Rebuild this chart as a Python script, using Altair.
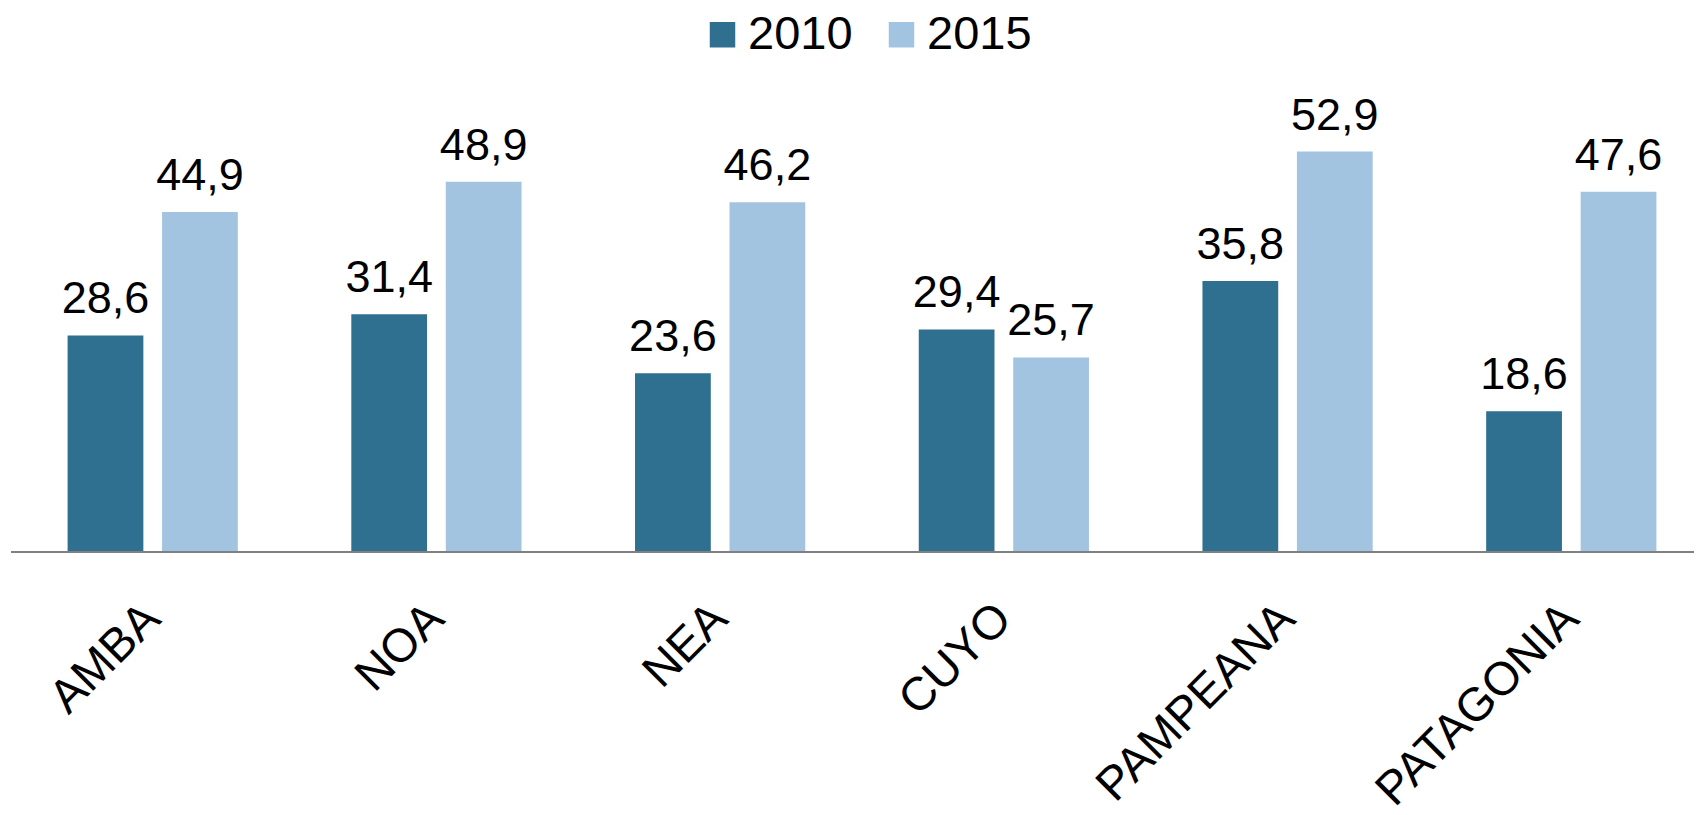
import altair as alt
import pandas as pd

regions = ["AMBA", "NOA", "NEA", "CUYO", "PAMPEANA", "PATAGONIA"]
years = ["2010", "2015"]
values_2010 = [28.6, 31.4, 23.6, 29.4, 35.8, 18.6]
values_2015 = [44.9, 48.9, 46.2, 25.7, 52.9, 47.6]
colors = ["#2F6F8F", "#A3C4E1"]

rows = []
for r, v1, v2 in zip(regions, values_2010, values_2015):
    for y, v in zip(years, [v1, v2]):
        rows.append({"region": r, "year": y, "value": v,
                     "label": f"{v:.1f}".replace(".", ",")})
df = pd.DataFrame(rows)

FONT = "Liberation Sans"
TOP = 8
W, H = 1664, 544 - TOP
YMAX = H / 7.57

x_enc = alt.X("region:N", sort=regions,
              scale=alt.Scale(paddingInner=0.4, paddingOuter=0.1325),
              axis=alt.Axis(title=None, labelAngle=-45, labelAlign="right",
                            labelBaseline="middle", labelFontSize=47,
                            labelFont=FONT, labelColor="black", ticks=False,
                            tickSize=0, domain=False, labelPadding=59,
                            labelLimit=500, labelOverlap=False, labelBound=False))
xo_enc = alt.XOffset("year:N", sort=years,
                     scale=alt.Scale(paddingInner=0.198, paddingOuter=0))
y_enc = alt.Y("value:Q", scale=alt.Scale(domain=[0, YMAX], nice=False, zero=True),
              axis=None)

bars = alt.Chart(df).mark_bar().encode(
    x=x_enc, xOffset=xo_enc, y=y_enc,
    color=alt.Color("year:N", sort=years,
                    scale=alt.Scale(domain=years, range=colors),
                    legend=alt.Legend(orient="none", legendX=669, legendY=-TOP + 3,
                                      direction="horizontal", title=None,
                                      symbolType="square", symbolSize=650,
                                      symbolStrokeWidth=0, labelFontSize=47,
                                      labelFont=FONT, labelColor="black",
                                      labelOffset=2, columnPadding=25,
                                      padding=0)),
)

texts = alt.Chart(df).mark_text(font=FONT, fontSize=45, color="black",
                                baseline="alphabetic", align="center", dy=-22).encode(
    x=x_enc, xOffset=xo_enc, y=y_enc, text="label:N"
)

base_line = alt.Chart(alt.Data(values=[{}])).mark_rule(color="#808080", strokeWidth=2).encode(
    x=alt.value(-19), x2=alt.value(W + 10), y=alt.value(H)
)

chart = alt.layer(bars, texts, base_line).properties(
    width=W, height=H,
    autosize=alt.AutoSizeParams(type="none"),
    padding={"left": 22, "top": TOP, "right": 0, "bottom": 266},
).configure_view(stroke=None)

chart.save("out.html", embed_options={"renderer": "svg", "actions": False})
